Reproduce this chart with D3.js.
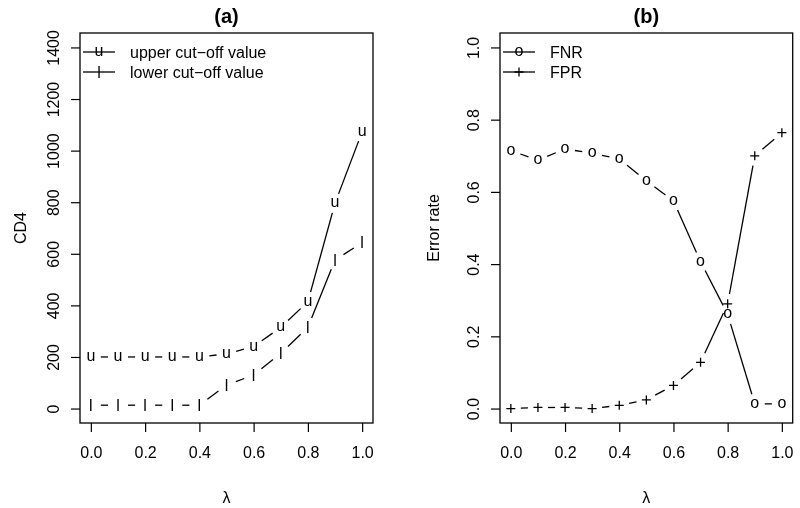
<!DOCTYPE html>
<html>
<head>
<meta charset="utf-8">
<script src="https://cdn.jsdelivr.net/npm/d3@7"></script>
<style>
    body { margin: 0; background: #fff; }
    svg { transform: translateZ(0); }
    svg text { font-family: "Liberation Sans", Arial, Helvetica, sans-serif; fill: #000; }
</style>
</head>
<body>
<div id="chart"></div>
<script>
// lambda values shared by both panels
const lambda = [0, 0.1, 0.2, 0.3, 0.4, 0.5, 0.6, 0.7, 0.8, 0.9, 1.0];
// panel (a): CD4 cut-off values
const upper = [200, 200, 200, 200, 200, 212, 240, 315, 414, 796, 1073];
const lower = [13, 13, 13, 13, 13, 91, 130, 214, 315, 576, 643];
// panel (b): error rates
const fnr = [0.714, 0.688, 0.719, 0.707, 0.691, 0.631, 0.575, 0.407, 0.261, 0.013, 0.013];
const fpr = [0.0, 0.003, 0.003, 0.0, 0.009, 0.024, 0.064, 0.128, 0.290, 0.700, 0.764];

const xTicks = [0, 0.2, 0.4, 0.6, 0.8, 1.0];
const cd4Ticks = [0, 200, 400, 600, 800, 1000, 1200, 1400];
const errTicks = [0, 0.2, 0.4, 0.6, 0.8, 1.0];

const width = 800, height = 508;
const fs = 16;
const svg = d3.select("#chart").append("svg")
    .attr("width", width)
    .attr("height", height)

function draw_panel(config) {
    const g = svg.append("g")
    const x0 = config.left, x1 = config.right, y0 = 423, y1 = 33;
    // R style 4% padding on both ends
    const padX = (x1 - x0) / 1.08 * 0.04;
    const padY = (y0 - y1) / 1.08 * 0.04;
    const scale_x = d3.scaleLinear().domain([0, 1]).range([x0 + padX, x1 - padX]);
    const scale_y = d3.scaleLinear().domain(config.yDomain).range([y0 - padY, y1 + padY]);

    // box
    g.append("rect")
        .attr("x", x0).attr("y", y1)
        .attr("width", x1 - x0).attr("height", y0 - y1)
        .attr("fill", "none").attr("stroke", "#000").attr("stroke-width", 1.3)

    // axes
    const axis_x = d3.axisBottom(scale_x)
        .tickValues(xTicks)
        .tickFormat(d3.format(".1f"))
        .tickSize(9).tickPadding(15)
    g.append("g")
        .attr("transform", `translate(0, ${y0})`)
        .call(axis_x)
        .call(a => a.select(".domain").remove())
        .call(a => a.selectAll("line").attr("stroke-width", 1.2))
        .call(a => a.selectAll("text").attr("font-size", fs))

    const axis_y = d3.axisLeft(scale_y)
        .tickValues(config.yTicks)
        .tickFormat(config.yFormat)
        .tickSize(9).tickPadding(0)
    g.append("g")
        .attr("transform", `translate(${x0}, 0)`)
        .call(axis_y)
        .call(a => a.select(".domain").remove())
        .call(a => a.selectAll("line").attr("stroke-width", 1.2))
        .call(a => a.selectAll("text")
            .attr("font-size", fs)
            .attr("text-anchor", "middle")
            .attr("dy", null)
            .attr("dominant-baseline", "central")
            .attr("x", 0)
            .attr("y", 0)
            .attr("transform", "translate(-27, 0) rotate(-90)"))

    // titles
    g.append("text")
        .attr("x", (x0 + x1) / 2).attr("y", 16)
        .attr("text-anchor", "middle").attr("dominant-baseline", "central")
        .attr("font-size", 20).attr("font-weight", "bold")
        .text(config.title)
    g.append("text")
        .attr("x", (x0 + x1) / 2).attr("y", 497)
        .attr("text-anchor", "middle").attr("dominant-baseline", "central")
        .attr("font-size", fs)
        .text("λ")
    g.append("text")
        .attr("transform", `translate(${config.ylabX}, ${(y0 + y1) / 2}) rotate(-90)`)
        .attr("text-anchor", "middle").attr("dominant-baseline", "central")
        .attr("font-size", fs)
        .text(config.ylab)

    // series, type = "b"
    config.series.forEach((s, i) => {
        const pts = s.values.map((v, j) => [scale_x(lambda[j]), scale_y(v)]);
        const gap = 10;
        const segs = d3.pairs(pts).filter(([p, q]) => Math.hypot(q[0] - p[0], q[1] - p[1]) > 2 * gap)
        g.append("g").selectAll("line")
            .data(segs)
            .join("line")
            .attr("x1", ([p, q]) => p[0] + (q[0] - p[0]) * gap / Math.hypot(q[0] - p[0], q[1] - p[1]))
            .attr("y1", ([p, q]) => p[1] + (q[1] - p[1]) * gap / Math.hypot(q[0] - p[0], q[1] - p[1]))
            .attr("x2", ([p, q]) => q[0] - (q[0] - p[0]) * gap / Math.hypot(q[0] - p[0], q[1] - p[1]))
            .attr("y2", ([p, q]) => q[1] - (q[1] - p[1]) * gap / Math.hypot(q[0] - p[0], q[1] - p[1]))
            .attr("stroke", "#000").attr("stroke-width", 1.3)
        draw_marks(g, pts, s.pch)

        // legend entry
        const ly = 52 + i * 20;
        const lx = x0 + 3;
        g.append("line")
            .attr("x1", lx).attr("x2", lx + 32)
            .attr("y1", ly).attr("y2", ly)
            .attr("stroke", "#000").attr("stroke-width", 1.3)
        draw_marks(g, [[lx + 16, ly]], s.pch)
        g.append("text")
            .attr("x", lx + 47).attr("y", ly)
            .attr("dominant-baseline", "central")
            .attr("font-size", fs)
            .text(s.name)
    })
}

function draw_marks(g, pts, pch) {
    if (pch === "+") {
        g.append("g").selectAll("path")
            .data(pts)
            .join("path")
            .attr("d", d => `M${d[0] - 4.5},${d[1]}H${d[0] + 4.5}M${d[0]},${d[1] - 4.5}V${d[1] + 4.5}`)
            .attr("stroke", "#000").attr("stroke-width", 1.3)
        return;
    }
    // baseline shift so the glyph is visually centred on the point
    const shift = pch === "l" ? 0.36 : 0.26;
    g.append("g").selectAll("text")
        .data(pts)
        .join("text")
        .attr("x", d => d[0])
        .attr("y", d => d[1] + shift * fs)
        .attr("text-anchor", "middle")
        .attr("font-size", fs)
        .text(pch)
}

draw_panel({
    left: 80, right: 373,
    yDomain: [0, 1400], yTicks: cd4Ticks, yFormat: d3.format("d"),
    title: "(a)", ylab: "CD4", ylabX: 20,
    series: [
        { name: "upper cut\u2212off value", values: upper, pch: "u" },
        { name: "lower cut\u2212off value", values: lower, pch: "l" }
    ]
})
draw_panel({
    left: 500, right: 792.7,
    yDomain: [0, 1], yTicks: errTicks, yFormat: d3.format(".1f"),
    title: "(b)", ylab: "Error rate", ylabX: 433,
    series: [
        { name: "FNR", values: fnr, pch: "o" },
        { name: "FPR", values: fpr, pch: "+" }
    ]
})
</script>
</body>
</html>
